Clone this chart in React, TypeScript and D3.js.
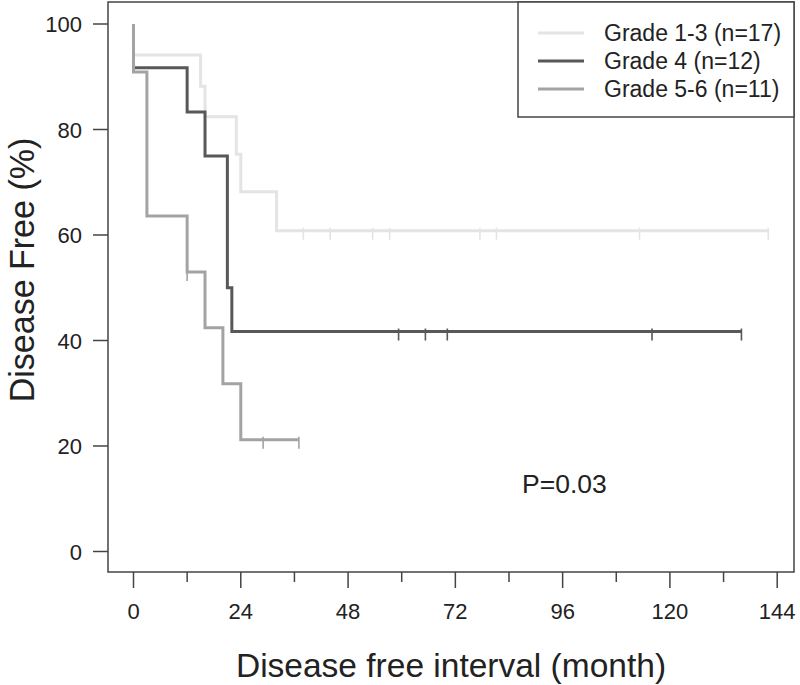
import React, { useRef, useEffect } from "react";
import * as d3 from "d3";

// Kaplan-Meier steps (months, % disease free)
const grade13Times = [0, 0, 15, 16, 23, 24, 32, 142];
const grade13Surv = [100, 94.1, 88.2, 82.4, 75.3, 68.2, 60.8, 60.8];
const grade13Censor = [38, 44, 53.5, 57.3, 77.5, 81.2, 113.2, 142];

const grade4Times = [0, 0, 12, 16, 21, 22, 136];
const grade4Surv = [100, 91.7, 83.3, 75, 50, 41.7, 41.7];
const grade4Censor = [59.3, 65.3, 70.2, 116, 136];

const grade56Times = [0, 0, 3, 12, 16, 20, 24, 37];
const grade56Surv = [100, 90.9, 63.6, 53.0, 42.4, 31.8, 21.2, 21.2];
const grade56Censor = [12, 29, 37];

const legendLabels = ["Grade 1-3 (n=17)", "Grade 4 (n=12)", "Grade 5-6 (n=11)"];
const yTicks = [0, 20, 40, 60, 80, 100];
const xTicks = [0, 24, 48, 72, 96, 120, 144];
const xMinorTicks = [12, 36, 60, 84, 108, 132];
const pValue = "P=0.03";

const FONT = "'Liberation Sans', Arial, sans-serif";

const KMPlot = () => {
  const svgRef = useRef<SVGSVGElement>(null);

  useEffect(() => {
    const width = 800;
    const height = 685;
    const box = { left: 108, top: 2, right: 794, bottom: 572 };

    const svg = d3.select(svgRef.current).attr("width", width).attr("height", height);
    svg.selectAll("*").remove();

    const x = d3.scaleLinear().domain([0, 144]).range([133.5, 777.2]);
    const y = d3.scaleLinear().domain([0, 100]).range([551.5, 24]);

    const series = [
      { times: grade13Times, surv: grade13Surv, censor: grade13Censor, color: "#e4e4e4" },
      { times: grade4Times, surv: grade4Surv, censor: grade4Censor, color: "#585858" },
      { times: grade56Times, surv: grade56Surv, censor: grade56Censor, color: "#a3a3a3" },
    ];

    const line = d3
      .line<[number, number]>()
      .x((d) => x(d[0]))
      .y((d) => y(d[1]))
      .curve(d3.curveStepAfter);

    // survival function value at time t
    const survAt = (times: number[], surv: number[], t: number) => {
      let s = surv[0];
      for (let i = 0; i < times.length; i++) if (times[i] <= t) s = surv[i];
      return s;
    };

    series.forEach((s) => {
      const pts = s.times.map((t, i) => [t, s.surv[i]] as [number, number]);
      svg
        .append("path")
        .attr("d", line(pts))
        .attr("fill", "none")
        .attr("stroke", s.color)
        .attr("stroke-width", 3);

      svg
        .append("g")
        .selectAll("line")
        .data(s.censor)
        .join("line")
        .attr("x1", (d) => x(d))
        .attr("x2", (d) => x(d))
        .attr("y1", (d) => y(survAt(s.times, s.surv, d)) - 3)
        .attr("y2", (d) => y(survAt(s.times, s.surv, d)) + 9)
        .attr("stroke", s.color)
        .attr("stroke-width", 1.6);
    });

    // frame
    svg
      .append("rect")
      .attr("x", box.left)
      .attr("y", box.top)
      .attr("width", box.right - box.left)
      .attr("height", box.bottom - box.top)
      .attr("fill", "none")
      .attr("stroke", "#444")
      .attr("stroke-width", 1.5);

    // y axis
    const yAxis = svg.append("g");
    yAxis
      .selectAll("line")
      .data(yTicks)
      .join("line")
      .attr("x1", 93)
      .attr("x2", box.left)
      .attr("y1", (d) => y(d))
      .attr("y2", (d) => y(d))
      .attr("stroke", "#444")
      .attr("stroke-width", 1.5);
    yAxis
      .selectAll("text")
      .data(yTicks)
      .join("text")
      .attr("x", 82)
      .attr("y", (d) => y(d) + 8)
      .attr("text-anchor", "end")
      .attr("font-family", FONT)
      .attr("font-size", 22)
      .attr("fill", "#222")
      .text((d) => d);

    // x axis
    const xAxis = svg.append("g");
    xAxis
      .selectAll("line.major")
      .data(xTicks)
      .join("line")
      .attr("class", "major")
      .attr("x1", (d) => x(d))
      .attr("x2", (d) => x(d))
      .attr("y1", box.bottom)
      .attr("y2", box.bottom + 16)
      .attr("stroke", "#444")
      .attr("stroke-width", 1.5);
    xAxis
      .selectAll("line.minor")
      .data(xMinorTicks)
      .join("line")
      .attr("class", "minor")
      .attr("x1", (d) => x(d))
      .attr("x2", (d) => x(d))
      .attr("y1", box.bottom)
      .attr("y2", box.bottom + 10)
      .attr("stroke", "#444")
      .attr("stroke-width", 1.5);
    xAxis
      .selectAll("text")
      .data(xTicks)
      .join("text")
      .attr("x", (d) => x(d))
      .attr("y", 619)
      .attr("text-anchor", "middle")
      .attr("font-family", FONT)
      .attr("font-size", 22)
      .attr("fill", "#222")
      .text((d) => d);

    // axis titles
    svg
      .append("text")
      .attr("x", (box.left + box.right) / 2)
      .attr("y", 677)
      .attr("text-anchor", "middle")
      .attr("font-family", FONT)
      .attr("font-size", 33.5)
      .attr("fill", "#222")
      .text("Disease free interval (month)");
    svg
      .append("text")
      .attr("transform", "translate(34,270) rotate(-90) scale(1,1.05)")
      .attr("text-anchor", "middle")
      .attr("font-family", FONT)
      .attr("font-size", 34)
      .attr("fill", "#222")
      .text("Disease Free (%)");

    // p value
    svg
      .append("text")
      .attr("x", 522)
      .attr("y", 493)
      .attr("font-family", FONT)
      .attr("font-size", 26.5)
      .attr("fill", "#222")
      .text(pValue);

    // legend
    const legend = svg.append("g");
    legend
      .append("rect")
      .attr("x", 518)
      .attr("y", box.top)
      .attr("width", box.right - 518)
      .attr("height", 115)
      .attr("fill", "white")
      .attr("stroke", "#444")
      .attr("stroke-width", 1.5);
    const rows = legend
      .selectAll("g")
      .data(legendLabels)
      .join("g")
      .attr("transform", (d, i) => `translate(0,${33 + i * 28})`);
    rows
      .append("line")
      .attr("x1", 538)
      .attr("x2", 584)
      .attr("stroke", (d, i) => series[i].color)
      .attr("stroke-width", 3);
    rows
      .append("text")
      .attr("x", 604)
      .attr("y", 8)
      .attr("font-family", FONT)
      .attr("font-size", 23)
      .attr("fill", "#222")
      .text((d) => d);
  }, []);

  return <svg ref={svgRef} style={{ position: "absolute", left: 0, top: 0 }}></svg>;
};

export default function App() {
  return <KMPlot />;
}
